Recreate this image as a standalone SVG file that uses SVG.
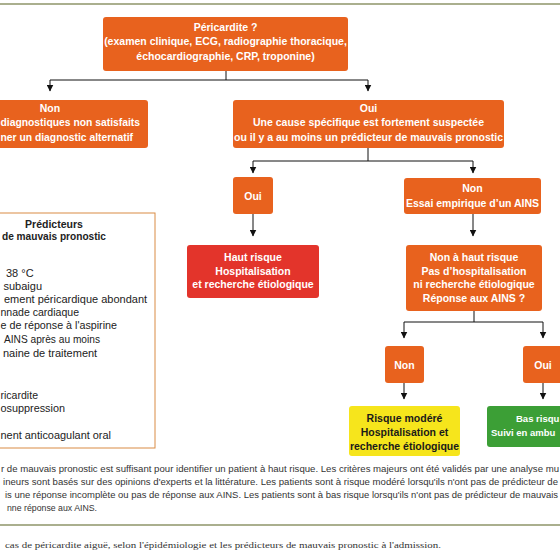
<svg xmlns="http://www.w3.org/2000/svg" width="560" height="560" viewBox="0 0 560 560">
<defs>
<marker id="arr" markerWidth="7" markerHeight="7" refX="6.5" refY="3.5" orient="auto" markerUnits="userSpaceOnUse">
<path d="M0,0 L7,3.5 L0,7 z" fill="#111"/>
</marker>
<style>
.bx{fill:#e8621e;}
.red{fill:#e3342b;}
.yel{fill:#f6e51c;}
.grn{fill:#3c9f36;}
.t{font-family:"Liberation Sans",Arial,sans-serif;font-weight:bold;font-size:10.5px;fill:#fff;text-anchor:middle;}
.ts{text-anchor:start;}
.tg{font-size:9.5px;}
.td{font-family:"Liberation Sans",Arial,sans-serif;font-weight:bold;font-size:10.5px;fill:#1a1a1a;text-anchor:middle;}
.p{font-family:"Liberation Sans",Arial,sans-serif;font-size:11px;fill:#222;}
.ph{font-family:"Liberation Sans",Arial,sans-serif;font-weight:bold;font-size:10.5px;fill:#222;text-anchor:middle;}
.fn{font-family:"Liberation Sans",Arial,sans-serif;font-size:8.6px;fill:#333;}
.cap{font-family:"Liberation Serif","Times New Roman",serif;font-size:9px;fill:#333;}
.ln{stroke:#111;stroke-width:1;fill:none;}
.ol{stroke:#8e9468;stroke-width:1.5;}
</style>
</defs>
<rect width="560" height="560" fill="#fff"/>
<line class="ol" x1="0" y1="4" x2="560" y2="4"/>
<line class="ol" x1="0" y1="525" x2="560" y2="525"/>

<g id="connectors">
<path class="ln" d="M226,71 V80 M50,80 H368"/>
<path class="ln" d="M50,80 V91" marker-end="url(#arr)"/>
<path class="ln" d="M368,80 V91" marker-end="url(#arr)"/>
<path class="ln" d="M368,148 V161 M253,161 H473"/>
<path class="ln" d="M253,161 V173" marker-end="url(#arr)"/>
<path class="ln" d="M473,161 V173" marker-end="url(#arr)"/>
<path class="ln" d="M253,214 V236" marker-end="url(#arr)"/>
<path class="ln" d="M473,214 V236" marker-end="url(#arr)"/>
<path class="ln" d="M474,311 V322 M404,322 H543"/>
<path class="ln" d="M404,322 V338" marker-end="url(#arr)"/>
<path class="ln" d="M543,322 V338" marker-end="url(#arr)"/>
<path class="ln" d="M404,383 V399" marker-end="url(#arr)"/>
<path class="ln" d="M543,383 V399" marker-end="url(#arr)"/>
</g>

<g id="pericardite">
<rect class="bx" x="103" y="17" width="245" height="54" rx="3"/>
<text class="t" x="225.5" y="30.5">Péricardite ?</text>
<text class="t" x="225.5" y="45">(examen clinique, ECG, radiographie thoracique,</text>
<text class="t" x="225.5" y="59.5">échocardiographie, CRP, troponine)</text>
</g>

<g id="non1">
<rect class="bx" x="-10" y="100" width="158" height="48" rx="3"/>
<text class="t" x="50" y="111.5">Non</text>
<text class="t ts" x="0.5" y="126" textLength="139.5" lengthAdjust="spacingAndGlyphs">diagnostiques non satisfaits</text>
<text class="t ts" x="0.5" y="140.5" textLength="132.5" lengthAdjust="spacingAndGlyphs">ner un diagnostic alternatif</text>
</g>

<g id="oui1">
<rect class="bx" x="233" y="100" width="271" height="48" rx="3"/>
<text class="t" x="368.5" y="111.5">Oui</text>
<text class="t" x="368.5" y="126">Une cause spécifique est fortement suspectée</text>
<text class="t" x="368.5" y="140.5">ou il y a au moins un prédicteur de mauvais pronostic</text>
</g>

<g id="predicteurs">
<rect x="-10" y="213" width="165" height="235" fill="#fff" stroke="#d98b44" stroke-width="1"/>
<text class="ph" x="54" y="228">Prédicteurs</text>
<text class="ph" x="54" y="239.5" textLength="104" lengthAdjust="spacingAndGlyphs">de mauvais pronostic</text>
<text class="p" x="6" y="277">38 °C</text>
<text class="p" x="3.5" y="290">subaigu</text>
<text class="p" x="4" y="303">ement péricardique abondant</text>
<text class="p" x="0.5" y="316" textLength="78.5" lengthAdjust="spacingAndGlyphs">nnade cardiaque</text>
<text class="p" x="0.5" y="329" textLength="116.5" lengthAdjust="spacingAndGlyphs">e de réponse à l'aspirine</text>
<text class="p" x="4" y="343" textLength="96" lengthAdjust="spacingAndGlyphs">AINS après au moins</text>
<text class="p" x="3" y="357">naine de traitement</text>
<text class="p" x="0.5" y="399" textLength="37.5" lengthAdjust="spacingAndGlyphs">ricardite</text>
<text class="p" x="0.5" y="412" textLength="64.5" lengthAdjust="spacingAndGlyphs">osuppression</text>
<text class="p" x="0.5" y="439" textLength="110.5" lengthAdjust="spacingAndGlyphs">nent anticoagulant oral</text>
</g>

<g id="oui2">
<rect class="bx" x="233" y="177" width="40" height="37" rx="3"/>
<text class="t" x="253" y="199.5">Oui</text>
</g>

<g id="non2">
<rect class="bx" x="404" y="178" width="137" height="36" rx="3"/>
<text class="t" x="472.5" y="191.5">Non</text>
<text class="t" x="472.5" y="206.5">Essai empirique d’un AINS</text>
</g>

<g id="haut-risque">
<rect class="red" x="187" y="245" width="132" height="53" rx="3"/>
<text class="t" x="253" y="261">Haut risque</text>
<text class="t" x="253" y="274.5">Hospitalisation</text>
<text class="t" x="253" y="288">et recherche étiologique</text>
</g>

<g id="non-haut-risque">
<rect class="bx" x="406" y="245" width="136" height="66" rx="3"/>
<text class="t" x="474" y="261">Non à haut risque</text>
<text class="t" x="474" y="274.5">Pas d’hospitalisation</text>
<text class="t" x="474" y="288">ni recherche étiologique</text>
<text class="t" x="474" y="301.5">Réponse aux AINS ?</text>
</g>

<g id="non3">
<rect class="bx" x="385" y="346" width="39" height="37" rx="3"/>
<text class="t" x="404.5" y="368.5">Non</text>
</g>

<g id="oui3">
<rect class="bx" x="523" y="346" width="45" height="37" rx="3"/>
<text class="t" x="543" y="368.5">Oui</text>
</g>

<g id="risque-modere">
<rect class="yel" x="349" y="406" width="111" height="50" rx="3"/>
<text class="td" x="404.5" y="422">Risque modéré</text>
<text class="td" x="404.5" y="436">Hospitalisation et</text>
<text class="td" x="404.5" y="450">recherche étiologique</text>
</g>

<g id="bas-risque">
<rect class="grn" x="487" y="406" width="80" height="41" rx="3"/>
<text class="t ts tg" x="516" y="422">Bas risqu</text>
<text class="t ts tg" x="491" y="436">Suivi en ambu</text>
</g>

<g id="notes">
<text class="fn" x="1" y="472" textLength="558" lengthAdjust="spacingAndGlyphs">r de mauvais pronostic est suffisant pour identifier un patient à haut risque. Les critères majeurs ont été validés par une analyse mu</text>
<text class="fn" x="3" y="485" textLength="555" lengthAdjust="spacingAndGlyphs">ineurs sont basés sur des opinions d'experts et la littérature. Les patients sont à risque modéré lorsqu'ils n'ont pas de prédicteur de</text>
<text class="fn" x="5" y="498" textLength="553" lengthAdjust="spacingAndGlyphs">is une réponse incomplète ou pas de réponse aux AINS. Les patients sont à bas risque lorsqu'ils n'ont pas de prédicteur de mauvais</text>
<text class="fn" x="7" y="511" textLength="90" lengthAdjust="spacingAndGlyphs">nne réponse aux AINS.</text>
<text class="cap" x="5" y="548" textLength="436" lengthAdjust="spacingAndGlyphs">cas de péricardite aiguë, selon l'épidémiologie et les prédicteurs de mauvais pronostic à l'admission.</text>
</g>
</svg>
